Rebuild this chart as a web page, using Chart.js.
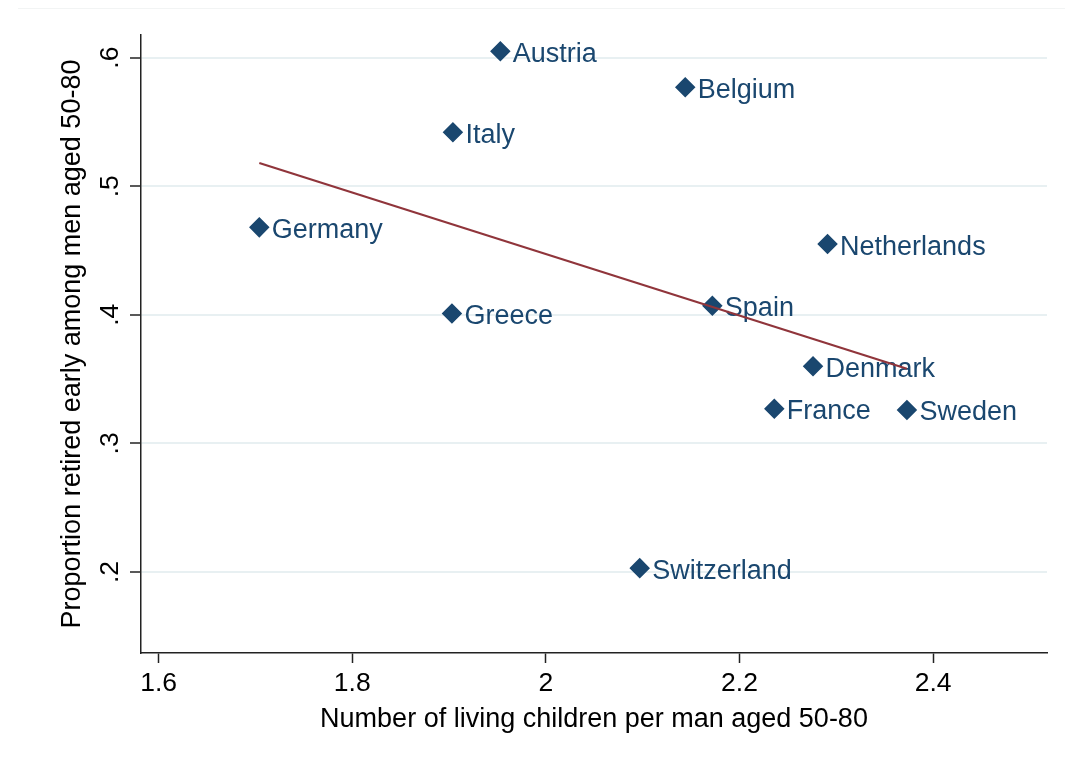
<!DOCTYPE html>
<html>
<head>
<meta charset="utf-8">
<script src="https://cdn.jsdelivr.net/npm/chart.js@4/dist/chart.umd.min.js"></script>
<style>
  html, body { margin: 0; padding: 0; background: #fff; }
  #wrap { position: relative; width: 1065px; height: 772px; }
  #frame { position: absolute; left: 18px; top: 8px; right: 0; height: 0; border-top: 1px solid #f2f4f4; }
  canvas { position: absolute; left: 0; top: 0; }
</style>
</head>
<body>
<div id="wrap">
  <div id="frame"></div>
  <canvas id="chart" width="1065" height="772"></canvas>
</div>
<script>
// Country-level values: children per man aged 50-80 vs. share retired early
const countries = ['Austria', 'Belgium', 'Italy', 'Germany', 'Netherlands', 'Greece',
                   'Spain', 'Denmark', 'France', 'Sweden', 'Switzerland'];
const children = [1.953, 2.144, 1.904, 1.704, 2.291, 1.903, 2.172, 2.276, 2.236, 2.373, 2.097];
const earlyRetired = [0.605, 0.577, 0.542, 0.468, 0.455, 0.401, 0.407, 0.360, 0.327, 0.326, 0.203];

// Linear fit line, drawn between the smallest and largest x
const fitX = [1.704, 2.373];
const fitY = [0.518, 0.358];

// Axis ticks
const xTicks = [1.6, 1.8, 2.0, 2.2, 2.4];
const xTickLabels = ['1.6', '1.8', '2', '2.2', '2.4'];
const yTicks = [0.2, 0.3, 0.4, 0.5, 0.6];
const yTickLabels = ['.2', '.3', '.4', '.5', '.6'];

const FONT = '"Liberation Sans", Arial, Helvetica, sans-serif';
const NAVY = '#1a476f';
const MAROON = '#90353b';

// Country names written to the right of each marker
const pointLabels = {
  id: 'pointLabels',
  afterDatasetDraw(chart, args) {
    if (args.index !== 0) return;
    const ctx = chart.ctx;
    ctx.save();
    ctx.font = '27px ' + FONT;
    ctx.fillStyle = NAVY;
    ctx.textAlign = 'left';
    ctx.textBaseline = 'alphabetic';
    args.meta.data.forEach((pt, i) => {
      ctx.fillText(countries[i], pt.x + 12.5, pt.y + 10.5);
    });
    ctx.restore();
  }
};

new Chart(document.getElementById('chart'), {
  type: 'scatter',
  data: {
    datasets: [
      {
        label: 'Countries',
        data: children.map((x, i) => ({ x: x, y: earlyRetired[i] })),
        pointStyle: 'rectRot',
        pointRadius: 9.2,
        pointHoverRadius: 9.2,
        backgroundColor: NAVY,
        borderColor: NAVY,
        borderWidth: 1.5,
        order: 2
      },
      {
        label: 'Fitted values',
        data: fitX.map((x, i) => ({ x: x, y: fitY[i] })),
        showLine: true,
        pointRadius: 0,
        borderColor: MAROON,
        borderWidth: 2.2,
        fill: false,
        order: 1
      }
    ]
  },
  options: {
    responsive: false,
    devicePixelRatio: 1,
    animation: false,
    layout: { padding: { top: 35, right: 18, left: 0, bottom: 0 } },
    plugins: {
      legend: { display: false },
      tooltip: { enabled: false }
    },
    scales: {
      x: {
        type: 'linear',
        min: 1.5818,
        max: 2.5177,
        afterBuildTicks: (s) => { s.ticks = xTicks.map(v => ({ value: v })); },
        afterFit: (s) => { s.height = 119; },
        ticks: {
          color: '#000',
          font: { family: FONT, size: 26.5 },
          padding: 5,
          maxRotation: 0,
          autoSkip: false,
          callback: (v, i) => xTickLabels[i]
        },
        grid: {
          drawOnChartArea: false,
          tickColor: '#222',
          tickLength: 10,
          tickWidth: 1.5
        },
        border: { color: '#222', width: 1.5 },
        title: {
          display: true,
          text: 'Number of living children per man aged 50-80',
          color: '#000',
          font: { family: FONT, size: 27 },
          padding: { top: 0, bottom: 36 }
        }
      },
      y: {
        type: 'linear',
        min: 0.137,
        max: 0.6176,
        afterBuildTicks: (s) => { s.ticks = yTicks.map(v => ({ value: v })); },
        afterFit: (s) => { s.width = 141; },
        ticks: {
          color: '#000',
          font: { family: FONT, size: 26.5 },
          padding: 8,
          minRotation: 90,
          maxRotation: 90,
          crossAlign: 'center',
          autoSkip: false,
          callback: (v, i) => yTickLabels[i]
        },
        grid: {
          color: '#e8f0f2',
          lineWidth: 2,
          tickColor: '#222',
          tickLength: 11,
          tickWidth: 1.5
        },
        border: { color: '#222', width: 1.5 },
        title: {
          display: true,
          text: 'Proportion retired early among men aged 50-80',
          color: '#000',
          font: { family: FONT, size: 27 },
          padding: { top: 56, bottom: 0 }
        }
      }
    }
  },
  plugins: [pointLabels]
});
</script>
</body>
</html>
